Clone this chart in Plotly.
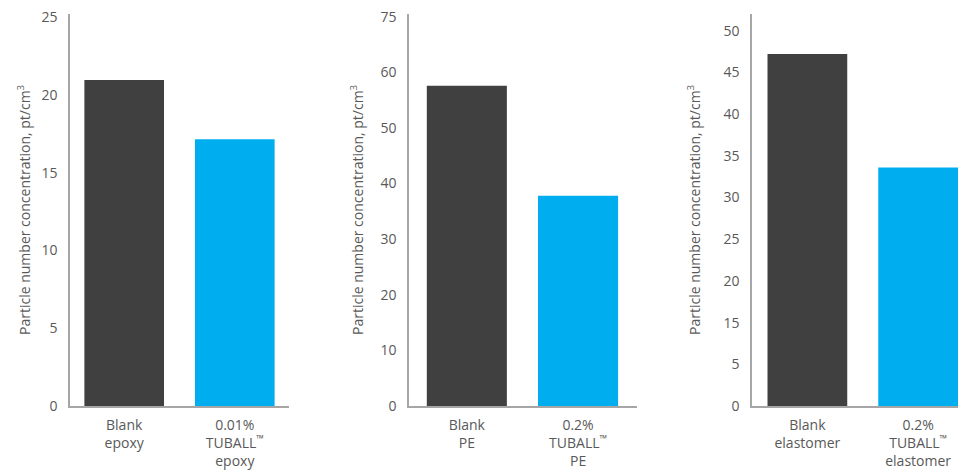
import plotly.graph_objects as go

W, H = 959, 471

# ---- data ----
TM = "<sup>™</sup>"
cats_epoxy = ["Blank<br>epoxy", "0.01%<br>TUBALL" + TM + "<br>epoxy"]
vals_epoxy = [20.95, 17.15]
ticks_epoxy = [0, 5, 10, 15, 20, 25]
ticktext_epoxy = ["0", "5", "10", "15", "20", "25"]

cats_pe = ["Blank<br>PE", "0.2%<br>TUBALL" + TM + "<br>PE"]
vals_pe = [57.6, 37.8]
ticks_pe = [0, 10, 20, 30, 40, 50, 60, 70]
ticktext_pe = ["0", "10", "20", "30", "40", "50", "60", "75"]

cats_el = ["Blank<br>elastomer", "0.2%<br>TUBALL" + TM + "<br>elastomer"]
vals_el = [42.2, 28.6]
ticks_el = [0, 5, 10, 15, 20, 25, 30, 35, 40, 45]
ticktext_el = ["0", "5", "15", "20", "25", "30", "35", "40", "45", "50"]

bar_colors = ["#404040", "#00AEEF"]
ytitle = "Particle number concentration, pt/cm<sup>3</sup>"

FONT = "'Open Sans', Lato, sans-serif"
TXT = "#595959"
AXC = "#A6A6A6"

panels = [
    dict(cats=cats_epoxy, vals=vals_epoxy, tv=ticks_epoxy, tt=ticktext_epoxy,
         xdom=(70, 289), xr=(-0.49, 1.49), ytop=25.2, tx=24),
    dict(cats=cats_pe, vals=vals_pe, tv=ticks_pe, tt=ticktext_pe,
         xdom=(409, 637), xr=(-0.52, 1.53), ytop=70.5, tx=357),
    dict(cats=cats_el, vals=vals_el, tv=ticks_el, tt=ticktext_el,
         xdom=(752, 958), xr=(-0.5, 1.36), ytop=47.0, tx=694),
]

top_px, bot_px = 14, 406
fig = go.Figure()
layout = dict(
    width=W, height=H,
    margin=dict(l=0, r=0, t=top_px, b=H - bot_px),
    paper_bgcolor="white", plot_bgcolor="white",
    showlegend=False,
    font=dict(family=FONT, color=TXT, size=14),
    annotations=[],
)

for i, p in enumerate(panels, start=1):
    xa = "x" if i == 1 else f"x{i}"
    ya = "y" if i == 1 else f"y{i}"
    fig.add_trace(go.Bar(
        x=list(range(len(p["cats"]))), y=p["vals"],
        marker=dict(color=bar_colors, line=dict(width=0)),
        width=0.72, xaxis=xa, yaxis=ya, hoverinfo="skip",
    ))
    xkey = "xaxis" if i == 1 else f"xaxis{i}"
    ykey = "yaxis" if i == 1 else f"yaxis{i}"
    layout[xkey] = dict(
        domain=[p["xdom"][0] / W, p["xdom"][1] / W],
        anchor=ya, range=list(p["xr"]),
        tickmode="array", tickvals=list(range(len(p["cats"]))), ticktext=p["cats"],
        showline=True, linecolor=AXC, linewidth=1.5,
        showgrid=False, zeroline=False, ticks="", automargin=False,
        tickfont=dict(size=14, color=TXT, family=FONT),
        ticklabelstandoff=5,
    )
    layout[ykey] = dict(
        domain=[0, 1], anchor=xa, range=[0, p["ytop"]],
        tickmode="array", tickvals=p["tv"], ticktext=p["tt"],
        showline=True, linecolor=AXC, linewidth=1.5,
        showgrid=False, zeroline=False, ticks="", automargin=False,
        tickfont=dict(size=14, color=TXT, family=FONT),
        ticklabelstandoff=8,
    )
    layout["annotations"].append(dict(
        text=ytitle, textangle=-90, showarrow=False,
        xref="paper", yref="paper",
        x=p["tx"] / W, y=0.5,
        xanchor="center", yanchor="middle",
        font=dict(size=14, color=TXT, family=FONT),
    ))

fig.update_layout(**layout)
fig.write_html("out.html", post_script="document.body.style.margin='0';",
               config={"displayModeBar": False})
